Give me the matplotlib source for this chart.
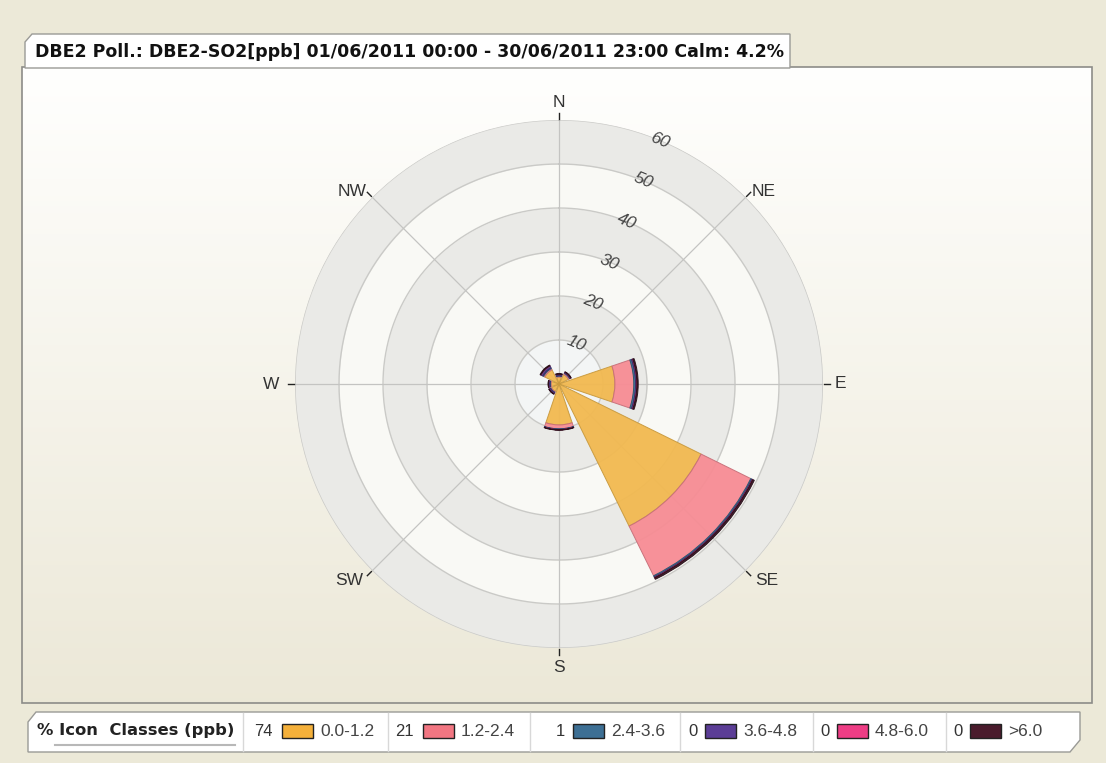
import numpy as np
import matplotlib
matplotlib.use("Agg")
import matplotlib.pyplot as plt
from matplotlib.patches import Rectangle, Polygon

# wind rose data (% frequency per direction, stacked per class)
directions = ['N', 'NE', 'E', 'SE', 'S', 'SW', 'W', 'NW']
dir_angles = [0, 45, 90, 135, 180, 225, 270, 315]
class_labels = ['0.0-1.2', '1.2-2.4', '2.4-3.6', '3.6-4.8', '4.8-6.0', '>6.0']
class_pct = ['74', '21', '1', '0', '0', '0']
c1 = [1.6, 2.4, 12.7, 36.0, 9.3, 1.9, 1.8, 3.6]
c2 = [0.2, 0.3, 4.3, 12.6, 0.9, 0.2, 0.2, 0.3]
c3 = [0.1, 0.1, 0.4, 0.3, 0.1, 0.1, 0.1, 0.2]
c4 = [0.3, 0.2, 0.3, 0.2, 0.1, 0.3, 0.3, 0.5]
c5 = [0.0, 0.0, 0.0, 0.0, 0.0, 0.0, 0.0, 0.0]
c6 = [0.2, 0.1, 0.3, 0.4, 0.1, 0.1, 0.1, 0.2]
ring_values = [10, 20, 30, 40, 50, 60]
title = "DBE2 Poll.: DBE2-SO2[ppb] 01/06/2011 00:00 - 30/06/2011 23:00 Calm: 4.2%"

face_cols = ['#f2b950', '#f78c94', '#3f7396', '#5a3b8c', '#e8407e', '#3a1726']
edge_cols = ['#c99a3e', '#c8707a', '#2d5470', '#42296a', '#b02d60', '#2a0f1a']
swatch_cols = ['#f4b03a', '#f27682', '#3d6f94', '#5b3d96', '#ee3d85', '#4a1b2c']

# label placement per direction: (radius, ha, va)
label_pos = {'N': (64, 'center', 'center'), 'NE': (62, 'left', 'center'),
             'E': (62.6, 'left', 'center'), 'SE': (63, 'left', 'center'),
             'S': (64.5, 'center', 'center'), 'SW': (63, 'right', 'center'),
             'W': (63.6, 'right', 'center'), 'NW': (62, 'right', 'center')}

W, H = 1106, 763
plt.rcParams['font.family'] = ['Liberation Sans', 'DejaVu Sans']
fig = plt.figure(figsize=(W / 100, H / 100), dpi=100)
fig.patch.set_facecolor('#ece9d8')

# background layer in pixel coordinates
bg = fig.add_axes([0, 0, 1, 1], zorder=0)
bg.set_xlim(0, W)
bg.set_ylim(H, 0)
bg.axis('off')

# main panel with vertical gradient
grad = np.linspace(0, 1, 256)[:, None]
top = np.array([1.0, 1.0, 0.995])
bot = np.array([0.925, 0.91, 0.845])
img = top[None, None, :] * (1 - grad[:, :, None]) + bot[None, None, :] * grad[:, :, None]
bg.imshow(img, extent=[22, 1092, 703, 67], aspect='auto', zorder=1)
bg.add_patch(Rectangle((22, 67), 1070, 636, fill=False, ec='#8c8c88', lw=1.2, zorder=2))

# title tab
bg.add_patch(Polygon([(25, 68), (25, 42), (32, 34), (790, 34), (790, 68)],
                     closed=True, fc='white', ec='#9a9a96', lw=1.0, zorder=3))
bg.text(35, 52, title, fontsize=12.5, fontweight='bold', color='#111111',
        va='center', ha='left', zorder=4, family='DejaVu Sans')

# legend strip
bg.add_patch(Polygon([(28, 752), (28, 722), (36, 712), (1080, 712), (1080, 740), (1070, 752)],
                     closed=True, fc='white', ec='#9a9a96', lw=1.0, zorder=3))
bg.text(37, 731, '% Icon  Classes (ppb)', fontsize=11.8, fontweight='bold',
        color='#222222', va='center', ha='left', zorder=4, family='DejaVu Sans')
bg.plot([55, 235], [745, 745], color='#b8b8b8', lw=1.5, zorder=4)
seps = [243, 388, 530, 680, 813, 946]
pct_x = [254, 395, 556, 688, 820, 953]
for i in range(6):
    bg.plot([seps[i], seps[i]], [713, 751], color='#d8d8d8', lw=1.0, zorder=4)
    x0 = pct_x[i]
    bg.text(x0, 731, class_pct[i], fontsize=12, color='#333333', va='center', ha='left', zorder=4)
    sx = x0 + (28 if len(class_pct[i]) == 2 else 17)
    bg.add_patch(Rectangle((sx, 724), 31, 14, fc=swatch_cols[i], ec='#222222', lw=1.0, zorder=4))
    bg.text(sx + 38, 731, class_labels[i], fontsize=12.5, color='#444444', va='center', ha='left', zorder=4)

# polar wind rose
cx, cy, R = 559, 384, 264
ax = fig.add_axes([(cx - R) / W, (H - cy - R) / H, 2 * R / W, 2 * R / H],
                  projection='polar', zorder=2)
ax.set_facecolor('none')
ax.set_theta_zero_location('N')
ax.set_theta_direction(-1)
ax.set_ylim(0, 60)
ax.axis('off')

full = np.linspace(0, 2 * np.pi, 361)
band_cols = ['#f3f5f5', '#eaeae7', '#f9f9f5', '#eaeae7', '#f9f9f5', '#eaeae7']
prev = 0
for rv, bc in zip(ring_values, band_cols):
    ax.fill_between(full, prev, rv, color=bc, lw=0, zorder=1)
    ax.plot(full, np.full_like(full, rv), color='#cacac7', lw=1.0, zorder=2)
    prev = rv
for a, d in zip(dir_angles, directions):
    t = np.deg2rad(a)
    ax.plot([t, t], [0, 60], color='#c4c4c2', lw=0.9, zorder=2)
    ax.plot([t, t], [60.3, 61.6], color='#222222', lw=1.0, zorder=2, clip_on=False)
    r, ha, va = label_pos[d]
    ax.text(t, r, d, fontsize=12.5, color='#333333', ha=ha, va=va, clip_on=False)

for rv in ring_values:
    ax.text(np.deg2rad(22.5), rv, str(rv), fontsize=12.5, style='italic', color='#444444',
            rotation=-22.5, ha='center', va='center', zorder=3)

theta = np.deg2rad(dir_angles)
width = np.deg2rad(37.5)
bottom = np.zeros(len(directions))
for vals, fc, ec in zip([c1, c2, c3, c4, c5, c6], face_cols, edge_cols):
    v = np.array(vals)
    ax.bar(theta, v, width=width, bottom=bottom, color=fc, edgecolor=ec,
           linewidth=0.7, alpha=0.95, zorder=4)
    bottom = bottom + v

fig.savefig('out.png', dpi=100, facecolor=fig.get_facecolor())
